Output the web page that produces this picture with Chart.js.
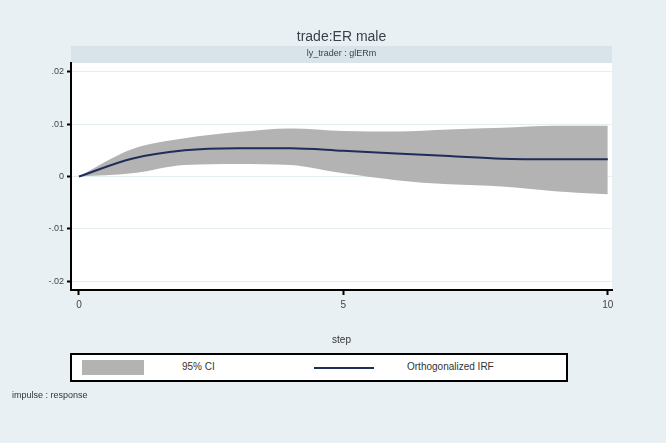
<!DOCTYPE html>
<html>
<head>
<meta charset="utf-8">
<script src="https://cdn.jsdelivr.net/npm/chart.js@4.4.1/dist/chart.umd.min.js"></script>
<style>
  html, body { margin: 0; padding: 0; background: #e9f0f3; }
  #wrap { position: relative; width: 666px; height: 443px; font-family: "Liberation Sans", Arial, sans-serif; }
  #c { position: absolute; left: 0; top: 0; }
  #legend { position: absolute; left: 70px; top: 353px; width: 494px; height: 25px;
            border: 2px solid #000; background: #fff; font-size: 10px; color: #333; }
  #legend .sw { position: absolute; left: 10px; top: 5px; width: 62px; height: 15px; background: #b3b3b3; }
  #legend .t1 { position: absolute; left: 110px; top: 6px; }
  #legend .ln { position: absolute; left: 242px; top: 12px; width: 60px; height: 2px; background: #1f2d5a; }
  #legend .t2 { position: absolute; left: 335px; top: 6px; }
  #note { position: absolute; left: 12px; top: 390px; font-size: 9px; color: #333; }
</style>
</head>
<body>
<div id="wrap">
  <canvas id="c" width="666" height="443"></canvas>
  <div id="legend">
    <div class="sw"></div><span class="t1">95% CI</span>
    <div class="ln"></div><span class="t2">Orthogonalized IRF</span>
  </div>
  <div id="note">impulse : response</div>
</div>
<script>
// steps of the impulse response
const steps = [0, 1, 2, 3, 4, 5, 6, 7, 8, 9, 10];
// orthogonalized IRF
const irf = [0, 0.0034, 0.0050, 0.0054, 0.0054, 0.0049, 0.0044, 0.0039, 0.0034, 0.0033, 0.0033];
// 95% confidence band
const ciUpper = [0, 0.0052, 0.0073, 0.0085, 0.0092, 0.0087, 0.0086, 0.0090, 0.0093, 0.0097, 0.0097];
const ciLower = [0, 0.0006, 0.0022, 0.0024, 0.0022, 0.0006, -0.0007, -0.0015, -0.0019, -0.0028, -0.0034];

const yTicks = [-0.02, -0.01, 0, 0.01, 0.02];
const yTickLabels = ['-.02', '-.01', '0', '.01', '.02'];
const xTicks = [0, 5, 10];

const chartTitle = 'trade:ER male';
const panelTitle = 'ly_trader : glERm';

const toPoints = arr => arr.map((v, i) => ({ x: steps[i], y: v }));

// background, panel band and titles
const framePlugin = {
  id: 'frame',
  beforeDraw(chart) {
    const { ctx, chartArea } = chart;
    ctx.save();
    ctx.fillStyle = '#e9f0f3';
    ctx.fillRect(0, 0, chart.width, chart.height);
    ctx.fillStyle = '#d8e4ea';
    ctx.fillRect(chartArea.left, 46, chartArea.right - chartArea.left, chartArea.top - 46);
    ctx.fillStyle = '#ffffff';
    ctx.fillRect(chartArea.left, chartArea.top, chartArea.right - chartArea.left, chartArea.bottom - chartArea.top);
    ctx.restore();
  },
  afterDraw(chart) {
    const { ctx, chartArea } = chart;
    const cx = (chartArea.left + chartArea.right) / 2;
    ctx.save();
    ctx.fillStyle = '#3a3f4a';
    ctx.textAlign = 'center';
    ctx.textBaseline = 'middle';
    ctx.font = '14px "Liberation Sans", Arial, sans-serif';
    ctx.fillText(chartTitle, cx, 37);
    ctx.font = '9px "Liberation Sans", Arial, sans-serif';
    ctx.fillText(panelTitle, cx, 54);
    ctx.restore();
  }
};

new Chart(document.getElementById('c'), {
  type: 'line',
  data: {
    datasets: [
      {
        label: 'upper',
        data: toPoints(ciUpper),
        borderWidth: 0,
        pointRadius: 0,
        backgroundColor: '#b3b3b3',
        fill: '+1',
        order: 2,
        cubicInterpolationMode: 'monotone'
      },
      {
        label: '95% CI',
        data: toPoints(ciLower),
        borderWidth: 0,
        pointRadius: 0,
        backgroundColor: '#b3b3b3',
        fill: false,
        order: 2,
        cubicInterpolationMode: 'monotone'
      },
      {
        label: 'Orthogonalized IRF',
        data: toPoints(irf),
        borderColor: '#1f2d5a',
        borderWidth: 2,
        pointRadius: 0,
        fill: false,
        order: 0,
        cubicInterpolationMode: 'monotone'
      }
    ]
  },
  options: {
    responsive: false,
    animation: false,
    layout: { padding: { left: 0, right: 54, top: 63, bottom: 93 } },
    plugins: { legend: { display: false }, tooltip: { enabled: false } },
    scales: {
      x: {
        type: 'linear',
        min: -0.15,
        max: 10.08,
        afterBuildTicks: s => { s.ticks = xTicks.map(v => ({ value: v })); },
        afterFit: s => { s.height = 60; },
        grid: { drawOnChartArea: false, tickColor: '#000', tickLength: 5, tickWidth: 2 },
        border: { color: '#000', width: 2 },
        ticks: { color: '#444', font: { size: 10, family: '"Liberation Sans", Arial, sans-serif' }, padding: 4 },
        title: { display: true, text: 'step', color: '#333', font: { size: 10, family: '"Liberation Sans", Arial, sans-serif' }, padding: { top: 0, bottom: 4 } }
      },
      y: {
        min: -0.0217,
        max: 0.0217,
        afterBuildTicks: s => { s.ticks = yTicks.map(v => ({ value: v })); },
        afterFit: s => { s.width = 71; },
        grid: { color: '#e4eef1', lineWidth: 1, tickColor: '#000', tickLength: 4, tickWidth: 2 },
        border: { color: '#000', width: 2 },
        ticks: {
          color: '#444',
          font: { size: 9, family: '"Liberation Sans", Arial, sans-serif' },
          padding: 3,
          callback: v => yTickLabels[yTicks.indexOf(v)]
        }
      }
    }
  },
  plugins: [framePlugin]
});
</script>
</body>
</html>
